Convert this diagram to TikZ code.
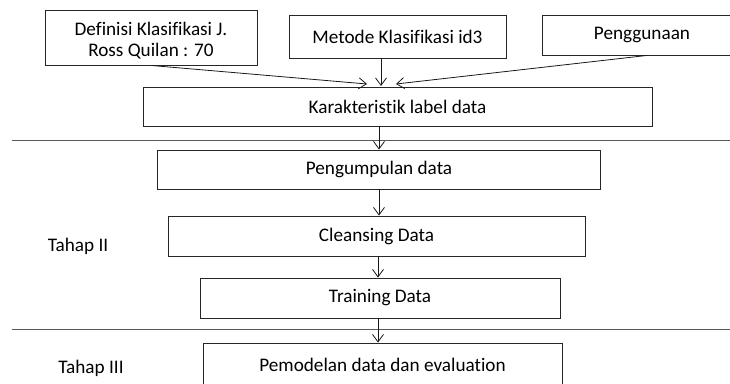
\documentclass[tikz,border=0pt]{standalone}
\usepackage{fontspec}
\setmainfont[Ligatures={NoCommon}]{Carlito}
\usetikzlibrary{arrows.meta,calc}
\begin{document}
\begin{tikzpicture}[x=1pt,y=-1pt,
  box/.style={draw=black!85,line width=0.9pt,fill=white,inner sep=2pt,align=center,font=\fontsize{19.2}{21}\selectfont},
  arr/.style={draw=black!90,line width=0.8pt,-{Straight Barb[length=7.5pt,width=11pt,line width=0.8pt]}},
  sep/.style={draw=black!65,line width=0.9pt},
  lbl/.style={font=\fontsize{19.2}{21}\selectfont}]
\useasboundingbox (0,0) rectangle (730,383);
\node[box,minimum width=212,minimum height=55] (A) at (151,37.5) {\raisebox{-4pt}[\height][\depth]{\begin{tabular}{@{}c@{}}Definisi Klasifikasi J.\\Ross Quilan : 70\end{tabular}}};
\node[box,minimum width=217,minimum height=43] (B) at (397.5,37) {Metode Klasifikasi id3};
\node[box,minimum width=200,minimum height=40] (C) at (642,35) {Penggunaan};
\node[box,minimum width=509,minimum height=39] (K) at (397.5,106.5) {Karakteristik label data};
\node[box,minimum width=443,minimum height=39] (P) at (379,169.5) {Pengumpulan data};
\node[box,minimum width=417,minimum height=40] (CD) at (376.5,236) {Cleansing Data};
\node[box,minimum width=360,minimum height=40] (T) at (380,298) {Training Data};
\node[box,minimum width=359,minimum height=44] (M) at (382.5,365) {Pemodelan data dan evaluation};
\node[lbl] (t2) at (78,246) {Tahap II};
\node[lbl] (t3) at (91,368) {Tahap III};
\draw[sep] (12,140.5) -- (730,140.5);
\draw[sep] (12,329) -- (730,329);
\coordinate (kA) at (367,84);
\coordinate (kC) at (396,84);
\coordinate (bs) at (381,58.5);
\coordinate (kB) at (381,86);
\draw[arr] (A.south) -- (kA);
\draw[arr] (bs) -- (kB);
\draw[arr] ([xshift=5pt]C.south) -- (kC);
\draw[arr] (P.north |- K.south) -- (P.north);
\draw[arr] (P.south) -- (P.south |- CD.north);
\draw[arr] ([xshift=1.5pt]CD.south) -- ([xshift=1.5pt]CD.south |- T.north);
\draw[arr] ([xshift=-2pt]T.south) -- ([xshift=-2pt]T.south |- M.north);
\end{tikzpicture}
\end{document}
